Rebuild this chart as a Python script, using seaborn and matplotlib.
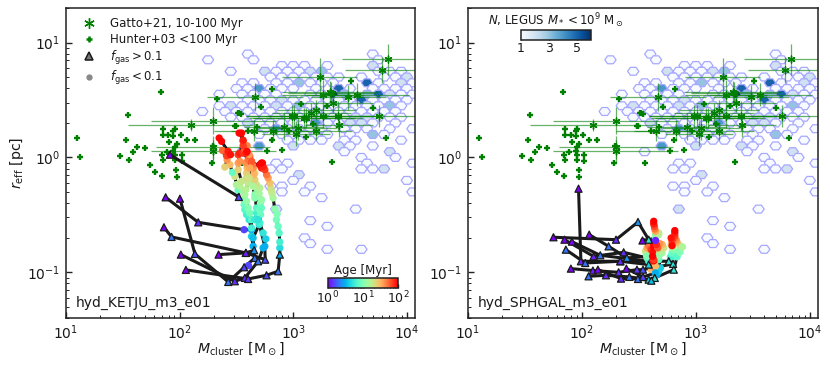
import numpy as np
import pandas as pd
import matplotlib
matplotlib.use("Agg")
import matplotlib.pyplot as plt
import seaborn as sns
from matplotlib.colors import LogNorm, Normalize
from matplotlib.cm import ScalarMappable
from matplotlib.lines import Line2D
from matplotlib.path import Path

# LEGUS hex cells: log10 mass per log10 radius row, count 1 unless listed
hex_row_logr = [.90, .85, .80, .75, .70, .65, .60, .55, .50, .45, .40, .35, .30, .25, .20, .15, .10, .05, .00,
                -.05, -.10, -.15, -.20, -.25, -.30, -.35, -.45, -.55, -.60, -.70, -.75, -.80]
hex_row_logm = [
    [2.60, 3.70], [2.25, 2.65, 3.75], [2.90, 3.00, 3.10, 3.30, 3.70],
    [2.45, 2.75, 2.85, 2.95, 3.05, 3.15, 3.25, 3.75, 3.85, 3.95],
    [2.80, 2.90, 3.00, 3.10, 3.20, 3.30, 3.40, 3.60, 3.80, 3.90, 4.00],
    [2.55, 2.65, 2.85, 2.95, 3.05, 3.15, 3.25, 3.35, 3.65, 3.75, 3.95, 4.05],
    [2.50, 2.60, 2.70, 2.80, 2.90, 3.00, 3.20, 3.40, 3.50, 3.70, 3.80, 3.90, 4.00],
    [2.35, 2.55, 2.65, 2.75, 2.85, 3.15, 3.25, 3.35, 3.45, 3.65, 3.75, 3.85, 3.95, 4.05],
    [2.60, 2.70, 2.80, 2.90, 3.00, 3.10, 3.20, 3.30, 3.40, 3.50, 3.60, 3.70, 3.80, 3.90, 4.00],
    [2.35, 2.45, 2.55, 2.65, 2.75, 2.85, 2.95, 3.05, 3.15, 3.25, 3.35, 3.45, 3.55, 3.65, 3.75, 3.85, 3.95],
    [2.20, 2.40, 2.50, 2.60, 2.70, 2.80, 2.90, 3.00, 3.10, 3.20, 3.30, 3.40, 3.50, 3.60, 3.70, 3.80, 3.90],
    [2.45, 2.55, 2.65, 2.75, 2.85, 2.95, 3.05, 3.15, 3.25, 3.35, 3.45, 3.55, 3.65, 3.75, 3.85, 3.95],
    [2.60, 2.70, 2.80, 2.90, 3.00, 3.20, 3.30, 3.40, 3.50, 3.60, 3.70, 3.90],
    [2.65, 2.75, 2.85, 2.95, 3.05, 3.15, 3.25, 3.45, 3.55, 3.65, 3.85, 4.05],
    [2.70, 2.90, 3.00, 3.10, 3.20, 3.30, 3.50, 3.70, 3.80],
    [2.95, 3.05, 3.15, 3.25, 3.45, 3.55, 3.95],
    [2.70, 3.00, 3.40, 3.50, 3.70], [2.55, 3.45, 3.85], [3.60, 3.90],
    [2.85, 2.95, 3.65, 4.05], [2.80, 2.90, 3.60, 3.70, 3.80], [3.05], [3.00, 4.00],
    [2.80, 2.90, 3.15], [2.90, 3.10, 4.05], [3.25], [2.85, 3.55], [3.15], [3.30], [3.10], [3.15], [3.30, 3.60],
]
filled_logm = [3.65, 3.40, 3.35, 3.75, 3.60, 3.65, 3.45, 2.70, 2.85, 3.05, 3.05, 2.85, 3.20, 2.70, 3.00, 3.40,
               3.85, 3.70, 3.85, 3.55, 3.65, 3.50, 3.60, 3.95, 3.85, 3.70, 4.00, 2.75, 3.15, 3.25, 2.90, 2.45,
               2.60, 3.05, 3.80, 2.85]
filled_logr = [.65, .60, .55, .55, .50, .55, .55, .60, .45, .45, .65, .25, .30, .10, .10, .10,
               .05, .20, .45, .35, .35, .30, .30, .65, .55, .80, .70, .75, .75, .75, .50, .45,
               .30, -.15, -.10, -.45]
filled_n = [5, 5, 6, 5, 5, 3, 3, 4, 2, 3, 3, 4, 4, 4, 2, 2,
            2, 3, 3, 2, 2, 2, 2, 2, 2, 2, 2, 2, 2, 3, 2, 2,
            2, 2, 2, 2]

# Gatto+21: log10 mass, log10 radius, errors in dex
gatto_logm = [3.835, 3.785, 3.234, 2.665, 3.263, 3.328, 3.336, 3.483, 3.565, 3.354, 3.753, 3.204, 3.395, 3.263,
              2.985, 3.008, 3.110, 3.093, 3.160, 3.404, 2.920, 3.043, 2.823, 2.653, 3.028, 3.204, 2.097, 2.296,
              2.296, 2.296]
gatto_logr = [.855, .762, .699, .525, .545, .574, .560, .522, .545, .478, .359, .414, .359, .359,
              .359, .359, .342, .342, .385, .281, .269, .255, .232, .232, .206, .232, .282, .320,
              .053, .090]
gatto_xerr = [.41, .33, .33, .42, .36, .42, .38, .33, .45, .35, .42, .35, .34, .50,
              .40, .42, .50, .45, .35, .30, .35, .34, .37, .35, .30, .31, .55, .55,
              .55, .50]
gatto_yerr = [.136, .11, .165, .12, .13, .095, .10, .11, .10, .08, .095, .09, .13, .10,
              .10, .10, .09, .09, .09, .10, .12, .10, .09, .09, .11, .08, .05, .12,
              .10, .10]

# Hunter+03
hunter_logm = [3.512, 2.814, 2.712, 3.067, 3.298, 2.521, 2.536, 3.703, 2.486, 2.677, 2.603, 2.809, 3.116, 3.175,
               2.964, 3.814, 2.773, 2.899, 3.340, 2.553, 1.836, 1.545, 2.328, 2.513, 1.094, 1.123, 1.528, 1.627,
               1.695, 1.592, 1.478, 1.557, 1.739, 1.783, 1.844, 1.970, 1.973, 1.850, 1.850, 1.900, 1.944, 1.959,
               1.944, 2.009, 2.061, 2.135, 1.909, 1.973, 1.959, 1.944, 1.885, 1.841, 1.959, 2.017, 1.850, 2.017,
               1.959, 2.281, 2.492, 2.290]
hunter_logr = [.667, .594, .443, .467, .449, .385, .377, .429, .275, .269, .226, .154, .177, .293,
               .226, .165, .052, .067, -.037, -.050, .571, .371, .510, .388, .169, .003, .148, .090,
               .082, .044, .015, -.020, -.063, -.127, -.159, -.113, -.173, .247, .198, .198, .227, .247,
               .189, .198, .154, .154, .131, .119, .090, .053, .044, .024, .024, .024, -.026, -.034,
               -.026, -.049, .276, .096]

# KETJU tracks: log10 mass, log10 radius, age in Myr, number of leading points with f_gas > 0.1
ket1_logm = [1.915, 2.521, 2.515, 2.500, 2.486, 2.465, 2.442, 2.398, 2.418, 2.377, 2.413, 2.427, 2.448, 2.348, 2.369]
ket1_logr = [.024, -.344, -.286, -.237, -.165, -.130, -.063, -.084, -.020, .061, .015, .053, .024, .169, .140]
ket1_age = [1, 1.5, 8, 15, 20, 8, 30, 25, 40, 55, 70, 85, 90, 95, 100]
ket2_logm = [1.877, 2.164, 2.568, 2.633, 2.612, 2.589, 2.574, 2.568, 2.568, 2.559, 2.530, 2.545, 2.515, 2.515, 2.530, 2.515, 2.530, 2.559, 2.594, 2.524]
ket2_logr = [-.347, -.565, -.629, -.629, -.542, -.498, -.455, -.411, -.368, -.295, -.250, -.208, -.107, -.049, -.034, .024, .038, .140, .102, .212]
ket2_age = [1, 1.3, 1.5, 3, 5, 6, 7, 8, 9, 12, 16, 19, 25, 36, 40, 70, 85, 60, 45, 95]
ket3_logm = [2.003, 2.135, 2.428, 2.568, 2.662, 2.647, 2.633, 2.633, 2.633, 2.618, 2.603, 2.589, 2.574, 2.583, 2.603, 2.589, 2.589, 2.594, 2.583, 2.603, 2.618, 2.559, 2.633]
ket3_logr = [-.359, -.840, -1.084, -.956, -.875, -.773, -.687, -.614, -.542, -.484, -.440, -.382, -.324, -.280, -.223, -.179, -.136, -.092, -.049, -.020, .009, .038, -.049]
ket3_age = [1, 1.6, 2, 1.5, 2, 3, 4, 6, 7, 9, 10, 12, 14, 16, 18, 21, 25, 30, 40, 50, 60, 75, 90]
ket4_logm = [1.862, 1.929, 2.583, 2.656, 2.647, 2.700, 2.662, 2.677, 2.677, 2.662, 2.677, 2.641, 2.633, 2.662, 2.647, 2.633, 2.612, 2.574, 2.559, 2.559, 2.545]
ket4_logr = [-.608, -.692, -.831, -.808, -.701, -.585, -.542, -.484, -.440, -.324, -.266, -.223, -.179, -.136, -.092, -.034, .024, .067, .102, .150, .212]
ket4_age = [1, 2, 1.3, 2.5, 3.5, 5, 5.5, 6, 7, 11, 13, 15, 18, 25, 30, 34, 38, 55, 70, 85, 95]
ket5_logm = [2.011, 2.486, 2.574, 2.691, 2.735, 2.759, 2.735, 2.706, 2.712, 2.706, 2.712, 2.721, 2.700, 2.706, 2.677, 2.662, 2.653, 2.647, 2.641, 2.633, 2.720, 2.706, 2.729]
ket5_logr = [-.846, -1.078, -1.049, -.904, -.788, -.710, -.658, -.570, -.498, -.455, -.397, -.368, -.315, -.266, -.237, -.194, -.150, -.092, -.063, -.034, -.092, -.063, -.049]
ket5_age = [1, 1.3, 1.3, 2, 3, 4, 5, 6, 8, 9, 11, 12, 14, 16, 20, 25, 32, 40, 50, 60, 85, 95, 100]
ket6_logm = [2.055, 2.603, 2.765, 2.867, 2.882, 2.882, 2.882, 2.876, 2.867, 2.852, 2.858, 2.838, 2.823, 2.814, 2.809, 2.803, 2.794, 2.779, 2.765, 2.750, 2.735, 2.720]
ket6_logr = [-.979, -1.058, -1.026, -.991, -.846, -.788, -.736, -.658, -.600, -.542, -.492, -.449, -.353, -.315, -.295, -.266, -.223, -.179, -.150, -.107, -.078, -.049]
ket6_age = [1, 1.4, 1.6, 2, 3, 4.5, 6, 7, 8, 9, 10, 11, 14, 16, 18, 20, 28, 38, 50, 70, 85, 100]
ket7_logm = [2.343, 2.583, 2.753, 2.750, 2.691, 2.720, 2.662, 2.647, 2.612, 2.618, 2.583, 2.594]
ket7_logr = [-.846, -.831, -.890, -.774, -.542, -.440, -.353, -.252, -.179, -.092, .038, .052]
ket7_age = [1, 1.2, 1.6, 3, 5, 8, 11, 15, 20, 35, 80, 95]
ket8_logm = [2.603]
ket8_logr = [-.939]
ket8_age = [1.5]
ket_ntri = [2, 2, 5, 4, 4, 5, 3, 0]

# SPHGAL tracks
sph1_logm = [1.970, 1.991, 2.337, 2.586, 2.659, 2.689, 2.674, 2.703, 2.718, 2.703, 2.659, 2.630]
sph1_logr = [-.272, -.904, -.904, -.933, -1.020, -.962, -.890, -.832, -.788, -.759, -.803, -.788]
sph1_age = [1, 1.2, 1.3, 4, 3, 4, 8, 14, 20, 40, 60, 90]
sph2_logm = [1.750, 2.299, 2.492, 2.586, 2.645, 2.645, 2.674, 2.674, 2.645, 2.639, 2.636, 2.630, 2.630]
sph2_logr = [-.695, -.716, -.562, -.716, -.701, -.672, -.672, -.658, -.643, -.623, -.600, -.579, -.556]
sph2_age = [1, 1.3, 2.5, 5, 9, 12, 15, 18, 35, 50, 65, 85, 100]
sph3_logm = [1.847, 2.102, 2.366, 2.571, 2.565, 2.557, 2.571, 2.586, 2.607, 2.624, 2.630, 2.630]
sph3_logr = [-.716, -.861, -.826, -.875, -.846, -.817, -.788, -.768, -.803, -.826, -.788, -.759]
sph3_age = [1, 1.2, 1.3, 9, 12, 20, 35, 50, 70, 90, 95, 100]
sph4_logm = [1.912, 2.161, 2.586, 2.609, 2.624, 2.630, 2.621, 2.615]
sph4_logr = [-.733, -.852, -.904, -.977, -.948, -.919, -.890, -.866]
sph4_age = [1, 2, 6, 30, 50, 70, 85, 100]
sph5_logm = [2.064, 2.234, 2.395, 2.571, 2.674, 2.683, 2.695, 2.703, 2.683, 2.665, 2.653]
sph5_logr = [-.672, -.774, -.875, -.861, -.855, -.817, -.788, -.759, -.750, -.788, -.759]
sph5_age = [1, 2, 2.5, 10, 12, 16, 22, 30, 40, 60, 80]
sph6_logm = [1.859, 2.029, 2.337, 2.762, 2.791, 2.821, 2.859, 2.873, 2.850, 2.835, 2.829, 2.815, 2.815, 2.815, 2.815]
sph6_logr = [-.803, -.919, -.904, -.904, -.866, -.832, -.803, -.779, -.759, -.739, -.721, -.701, -.681, -.658, -.637]
sph6_age = [2, 2, 1.3, 5, 7, 10, 13, 16, 22, 30, 40, 55, 70, 85, 100]
sph7_logm = [1.903, 2.096, 2.322, 2.483, 2.536, 2.800, 2.777, 2.791, 2.800, 2.791, 2.783, 2.791, 2.791, 2.783, 2.791]
sph7_logr = [-.968, -.985, -1.000, -.977, -.977, -.927, -.866, -.832, -.803, -.779, -.759, -.739, -.721, -.701, -.768]
sph7_age = [1, 1.2, 1.3, 1.4, 1.6, 5, 6, 8, 10, 16, 25, 45, 70, 90, 95]
sph8_logm = [2.058, 2.211, 2.416, 2.586, 2.639, 2.806, 2.835, 2.859, 2.882]
sph8_logr = [-1.035, -1.026, -1.040, -1.064, -1.049, -.977, -.866, -.826, -.779]
sph8_age = [2, 1.3, 2, 4, 5, 5, 7, 10, 15]
sph9_logm = [2.140, 2.343, 2.492, 2.609, 2.674, 2.645, 2.630]
sph9_logr = [-.977, -1.055, -1.058, -1.073, -.991, -.948, -.900]
sph9_age = [1, 1.3, 2, 3.5, 4, 30, 95]
sph10_logm = [2.390, 2.536, 2.645, 2.630, 2.620]
sph10_logr = [-.968, -1.040, -1.006, -.890, -.860]
sph10_age = [1, 1.5, 3, 70, 100]
sph11_logm = [2.527, 2.639]
sph11_logr = [-.716, -.721]
sph11_age = [1, 1.2]
sph_ntri = [4, 4, 3, 2, 3, 4, 6, 6, 4, 2, 1]

ket_tracks = [(ket1_logm, ket1_logr, ket1_age), (ket2_logm, ket2_logr, ket2_age), (ket3_logm, ket3_logr, ket3_age),
              (ket4_logm, ket4_logr, ket4_age), (ket5_logm, ket5_logr, ket5_age), (ket6_logm, ket6_logr, ket6_age),
              (ket7_logm, ket7_logr, ket7_age), (ket8_logm, ket8_logr, ket8_age)]
sph_tracks = [(sph1_logm, sph1_logr, sph1_age), (sph2_logm, sph2_logr, sph2_age), (sph3_logm, sph3_logr, sph3_age),
              (sph4_logm, sph4_logr, sph4_age), (sph5_logm, sph5_logr, sph5_age), (sph6_logm, sph6_logr, sph6_age),
              (sph7_logm, sph7_logr, sph7_age), (sph8_logm, sph8_logr, sph8_age), (sph9_logm, sph9_logr, sph9_age),
              (sph10_logm, sph10_logr, sph10_age), (sph11_logm, sph11_logr, sph11_age)]

sns.set_theme(style="ticks")
plt.rcParams.update({"font.family": ["DejaVu Sans"], "xtick.direction": "in", "ytick.direction": "in",
                     "xtick.major.size": 4.5, "ytick.major.size": 4.5, "xtick.minor.size": 2.3, "ytick.minor.size": 2.3,
                     "xtick.major.width": 1.0, "ytick.major.width": 1.0, "xtick.minor.width": 0.7, "ytick.minor.width": 0.7,
                     "axes.linewidth": 1.1, "axes.edgecolor": "#222222", "xtick.color": "#222222", "ytick.color": "#222222",
                     "text.color": "k", "axes.labelcolor": "k", "xtick.labelcolor": "k", "ytick.labelcolor": "k"})

# Hex table
hx_m, hx_r, hx_n = [], [], []
filled = {(round(m, 2), round(r, 2)): n for m, r, n in zip(filled_logm, filled_logr, filled_n)}
for r, row in zip(hex_row_logr, hex_row_logm):
    for m in row:
        hx_m.append(m)
        hx_r.append(r)
        hx_n.append(filled.get((round(m, 2), round(r, 2)), 1))
hex_df = pd.DataFrame({"m": 10 ** np.array(hx_m), "r": 10 ** np.array(hx_r), "n": hx_n})

hex_path = Path([(-1, 0), (-.5, .7), (.5, .7), (1, 0), (.5, -.7), (-.5, -.7), (-1, 0)], closed=True)

fig = plt.figure(figsize=(8.3, 3.65), dpi=100)
ax1 = fig.add_axes([66 / 830, 1 - 318 / 365, 349 / 830, 310 / 365])
ax2 = fig.add_axes([468 / 830, 1 - 318 / 365, 350 / 830, 310 / 365])

age_norm = LogNorm(1, 100)
n_norm = Normalize(1, 6)
GREEN = "#008000"

for ax, tracks, ntri, label in [(ax1, ket_tracks, ket_ntri, "hyd_KETJU_m3_e01"),
                                (ax2, sph_tracks, sph_ntri, "hyd_SPHGAL_m3_e01")]:
    ax.set_xscale("log")
    ax.set_yscale("log")
    ax.set_xlim(10, 11800)
    ax.set_ylim(0.04, 20)
    sns.scatterplot(data=hex_df, x="m", y="r", hue="n", hue_norm=n_norm, palette="Blues", marker=hex_path,
                    s=66, edgecolor="#a8a8ff", linewidth=0.9, legend=False, ax=ax, zorder=1)
    xm, xr = 10 ** np.array(gatto_logm), 10 ** np.array(gatto_logr)
    xe = np.array(gatto_xerr)
    ye = np.array(gatto_yerr)
    ax.errorbar(xm, xr, xerr=[xm - xm * 10 ** -xe, xm * 10 ** xe - xm], yerr=[xr - xr * 10 ** -ye, xr * 10 ** ye - xr],
                fmt="none", ecolor=GREEN, elinewidth=0.9, alpha=0.6, zorder=2)
    sns.scatterplot(x=xm, y=xr, color=GREEN, marker=(6, 2, 0), s=25, linewidth=1.0, legend=False, ax=ax, zorder=3)
    sns.scatterplot(x=10 ** np.array(hunter_logm), y=10 ** np.array(hunter_logr), color=GREEN, marker="+", s=22,
                    linewidth=1.7, legend=False, ax=ax, zorder=3)
    for (lm, lr, age) in tracks:
        if len(lm) > 1:
            sns.lineplot(x=10 ** np.array(lm), y=10 ** np.array(lr), sort=False, estimator=None, color="k",
                         linewidth=2.2, legend=False, ax=ax, zorder=4)
    for (lm, lr, age), nt in zip(tracks, ntri):
        m, r = 10 ** np.array(lm), 10 ** np.array(lr)
        age = np.array(age, dtype=float)
        if len(lm) > nt:
            sns.scatterplot(x=m[nt:], y=r[nt:], hue=age[nt:], hue_norm=age_norm, palette="rainbow", marker="o", s=28,
                            linewidth=0, legend=False, ax=ax, zorder=5)
    for (lm, lr, age), nt in zip(tracks, ntri):
        m, r = 10 ** np.array(lm), 10 ** np.array(lr)
        age = np.array(age, dtype=float)
        if nt:
            sns.scatterplot(x=m[:nt], y=r[:nt], hue=age[:nt], hue_norm=age_norm, palette="rainbow", marker="^", s=26,
                            edgecolor="k", linewidth=0.9, legend=False, ax=ax, zorder=6)
    ax.set_xlabel(r"$M_{\rm cluster}$ [M$_\odot$]", fontsize=10.2, labelpad=-1)
    ax.tick_params(axis="both", which="major", labelsize=10, pad=4)
    ax.text(0.027, 0.035, label, transform=ax.transAxes, fontsize=10, color="k", zorder=8)

ax1.set_ylabel(r"$r_{\rm eff}$ [pc]", fontsize=10.2, labelpad=1)
ax2.set_ylabel("")

handles = [
    Line2D([], [], ls="", marker=(6, 2, 0), color=GREEN, ms=7.5, mew=1.0),
    Line2D([], [], ls="", marker="+", color=GREEN, ms=5, mew=1.8),
    Line2D([], [], ls="", marker="^", mfc="#777777", mec="k", ms=5.5, mew=1.1),
    Line2D([], [], ls="", marker="o", mfc="#888888", mec="#888888", ms=3.5),
]
labels = ["Gatto+21, 10-100 Myr", "Hunter+03 <100 Myr", r"$f_{\rm gas} > 0.1$", r"$f_{\rm gas} < 0.1$"]
ax1.legend(handles, labels, loc="upper left", frameon=False, fontsize=8.5, bbox_to_anchor=(0.005, 1.0),
           labelspacing=0.22, handletextpad=0.8, borderpad=0.3)

cax1 = fig.add_axes([328 / 830, 1 - 288 / 365, 70 / 830, 10 / 365])
cb1 = fig.colorbar(ScalarMappable(norm=age_norm, cmap="rainbow"), cax=cax1, orientation="horizontal")
cb1.ax.tick_params(labelsize=9, pad=1.5, length=3)
cb1.ax.tick_params(which="minor", length=1.5)
cax1.set_title("Age [Myr]", fontsize=8.5, pad=3)

cax2 = fig.add_axes([521 / 830, 1 - 39.5 / 365, 70 / 830, 9.5 / 365])
cb2 = fig.colorbar(ScalarMappable(norm=n_norm, cmap="Blues"), cax=cax2, orientation="horizontal", ticks=[1, 3, 5])
cb2.ax.tick_params(labelsize=9, pad=1.5, length=3)
cax2.set_title(r"$N$, LEGUS $M_*<10^9$ M$_\odot$", fontsize=8.5, pad=2)

fig.savefig("out.png", dpi=100)
